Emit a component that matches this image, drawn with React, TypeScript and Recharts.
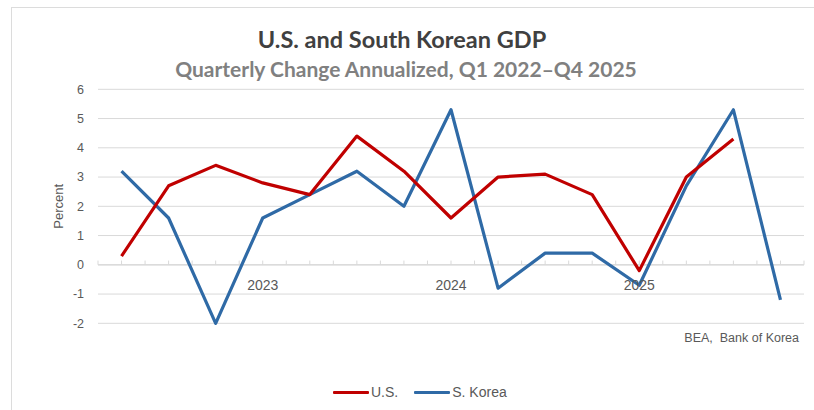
import React from "react";
import {
  LineChart,
  Line,
  XAxis,
  YAxis,
  CartesianGrid,
  ReferenceLine,
  ReferenceDot,
  Legend,
} from "recharts";

const categories = [
  "Q2 2022", "Q3 2022", "Q4 2022",
  "Q1 2023", "Q2 2023", "Q3 2023", "Q4 2023",
  "Q1 2024", "Q2 2024", "Q3 2024", "Q4 2024",
  "Q1 2025", "Q2 2025", "Q3 2025", "Q4 2025",
];
const seriesNames = ["U.S.", "S. Korea"];
const usValues: (number | null)[] = [0.3, 2.7, 3.4, 2.8, 2.4, 4.4, 3.2, 1.6, 3.0, 3.1, 2.4, -0.2, 3.0, 4.3, null];
const koreaValues: number[] = [3.2, 1.6, -2.0, 1.6, 2.4, 3.2, 2.0, 5.3, -0.8, 0.4, 0.4, -0.7, 2.7, 5.3, -1.2];
const yTicks = [-2, -1, 0, 1, 2, 3, 4, 5, 6];

const data = categories.map((c, i) => ({
  idx: i + 1,
  label: c,
  us: usValues[i],
  korea: koreaValues[i],
}));

// tick marks at band boundaries and band centres
const tickPositions: number[] = [];
for (let i = 0; i <= categories.length; i++) {
  tickPositions.push(i + 0.5);
  if (i < categories.length) tickPositions.push(i + 1);
}
const yearLabels = data
  .filter((d) => d.label.startsWith("Q1"))
  .map((d) => ({ idx: d.idx, year: d.label.slice(3) }));

const RED = "#c00000";
const BLUE = "#2f6aa6";
const GRID = "#d9d9d9";
const TEXT = "#595959";
const SANS = "'Liberation Sans', Arial, sans-serif";

const LegendContent = (props: any) => {
  const payload = [...(props.payload || [])].sort(
    (a: any, b: any) => seriesNames.indexOf(a.value) - seriesNames.indexOf(b.value)
  );
  return (
    <div style={{ display: "flex", alignItems: "center", marginLeft: 333, height: 16 }}>
      {payload.map((p: any, i: number) => (
        <div key={i} style={{ display: "flex", alignItems: "center", marginRight: 16 }}>
          <div style={{ width: 36, height: 3, background: p.color, marginRight: 2, borderRadius: 1 }} />
          <span style={{ fontFamily: SANS, fontSize: 14, color: TEXT }}>{p.value}</span>
        </div>
      ))}
    </div>
  );
};

export default function App() {
  return (
    <div style={{ position: "fixed", left: 0, top: 0, width: 814, height: 410, background: "#fff", overflow: "hidden" }}>
      <div
        style={{
          position: "absolute",
          left: 11,
          top: 7,
          width: 900,
          height: 500,
          borderTop: "1px solid #dcdcdc",
          borderLeft: "1px solid #dcdcdc",
        }}
      />
      <div
        style={{
          position: "absolute",
          left: 402,
          top: 25,
          transform: "translateX(-50%)",
          whiteSpace: "nowrap",
          fontFamily: "Lato, 'Open Sans', sans-serif",
          fontWeight: 700,
          fontSize: 23.5,
          color: "#404040",
          lineHeight: "28px",
        }}
      >
        U.S. and South Korean GDP
      </div>
      <div
        style={{
          position: "absolute",
          left: 406,
          top: 56,
          transform: "translateX(-50%)",
          whiteSpace: "nowrap",
          fontFamily: "Lato, 'Open Sans', sans-serif",
          fontWeight: 700,
          fontSize: 21,
          color: "#808080",
          lineHeight: "26px",
        }}
      >
        Quarterly Change Annualized, Q1 2022–Q4 2025
      </div>
      <div
        style={{
          position: "absolute",
          right: 15,
          top: 330,
          whiteSpace: "pre",
          fontFamily: SANS,
          fontSize: 12.5,
          color: TEXT,
          lineHeight: "16px",
        }}
      >
        {"BEA,  Bank of Korea"}
      </div>
      <div style={{ position: "absolute", left: 0, top: 0 }}>
        <LineChart
          width={814}
          height={410}
          data={data}
          margin={{ top: 89.3, right: 10, left: 0, bottom: 86.7 }}
        >
          <CartesianGrid horizontal={true} vertical={false} stroke={GRID} strokeWidth={1} />
          <XAxis dataKey="idx" type="number" domain={[0.5, 15.5]} hide />
          <YAxis
            width={98}
            domain={[-2, 6]}
            ticks={yTicks}
            axisLine={false}
            tickLine={false}
            tickSize={0}
            tickMargin={14}
            interval={0}
            tick={{ fill: TEXT, fontSize: 12.5, fontFamily: SANS }}
            label={{
              content: (p: any) => {
                const vb = p.viewBox || {};
                const x = (vb.x || 0) + 63;
                const y = (vb.y || 0) + (vb.height || 0) / 2;
                return (
                  <text
                    x={x}
                    y={y}
                    transform={`rotate(-90, ${x}, ${y})`}
                    textAnchor="middle"
                    fill={TEXT}
                    fontSize={13}
                    fontFamily={SANS}
                  >
                    Percent
                  </text>
                );
              },
            }}
          />
          <ReferenceLine y={0} stroke={GRID} strokeWidth={1.2} />
          {tickPositions.map((t) => (
            <ReferenceLine
              key={"t" + t}
              segment={[
                { x: t, y: 0 },
                { x: t, y: 0.145 },
              ]}
              stroke={GRID}
              strokeWidth={1}
            />
          ))}
          {yearLabels.map((yl) => (
            <ReferenceDot
              key={yl.year}
              x={yl.idx}
              y={0}
              r={0}
              fill="none"
              stroke="none"
              label={{
                value: yl.year,
                position: "bottom",
                offset: 15,
                fill: TEXT,
                fontSize: 14,
                fontFamily: SANS,
              }}
            />
          ))}
          <Line
            type="linear"
            dataKey="korea"
            name={seriesNames[1]}
            stroke={BLUE}
            strokeWidth={3.2}
            dot={false}
            activeDot={false}
            strokeLinejoin="round"
            isAnimationActive={false}
          />
          <Line
            type="linear"
            dataKey="us"
            name={seriesNames[0]}
            stroke={RED}
            strokeWidth={3.2}
            dot={false}
            activeDot={false}
            strokeLinejoin="round"
            isAnimationActive={false}
          />
          <Legend
            layout="horizontal"
            verticalAlign="middle"
            align="center"
            content={<LegendContent />}
            wrapperStyle={{ position: "absolute", top: 384, left: 0, width: 814, height: 16 }}
          />
        </LineChart>
      </div>
    </div>
  );
}
